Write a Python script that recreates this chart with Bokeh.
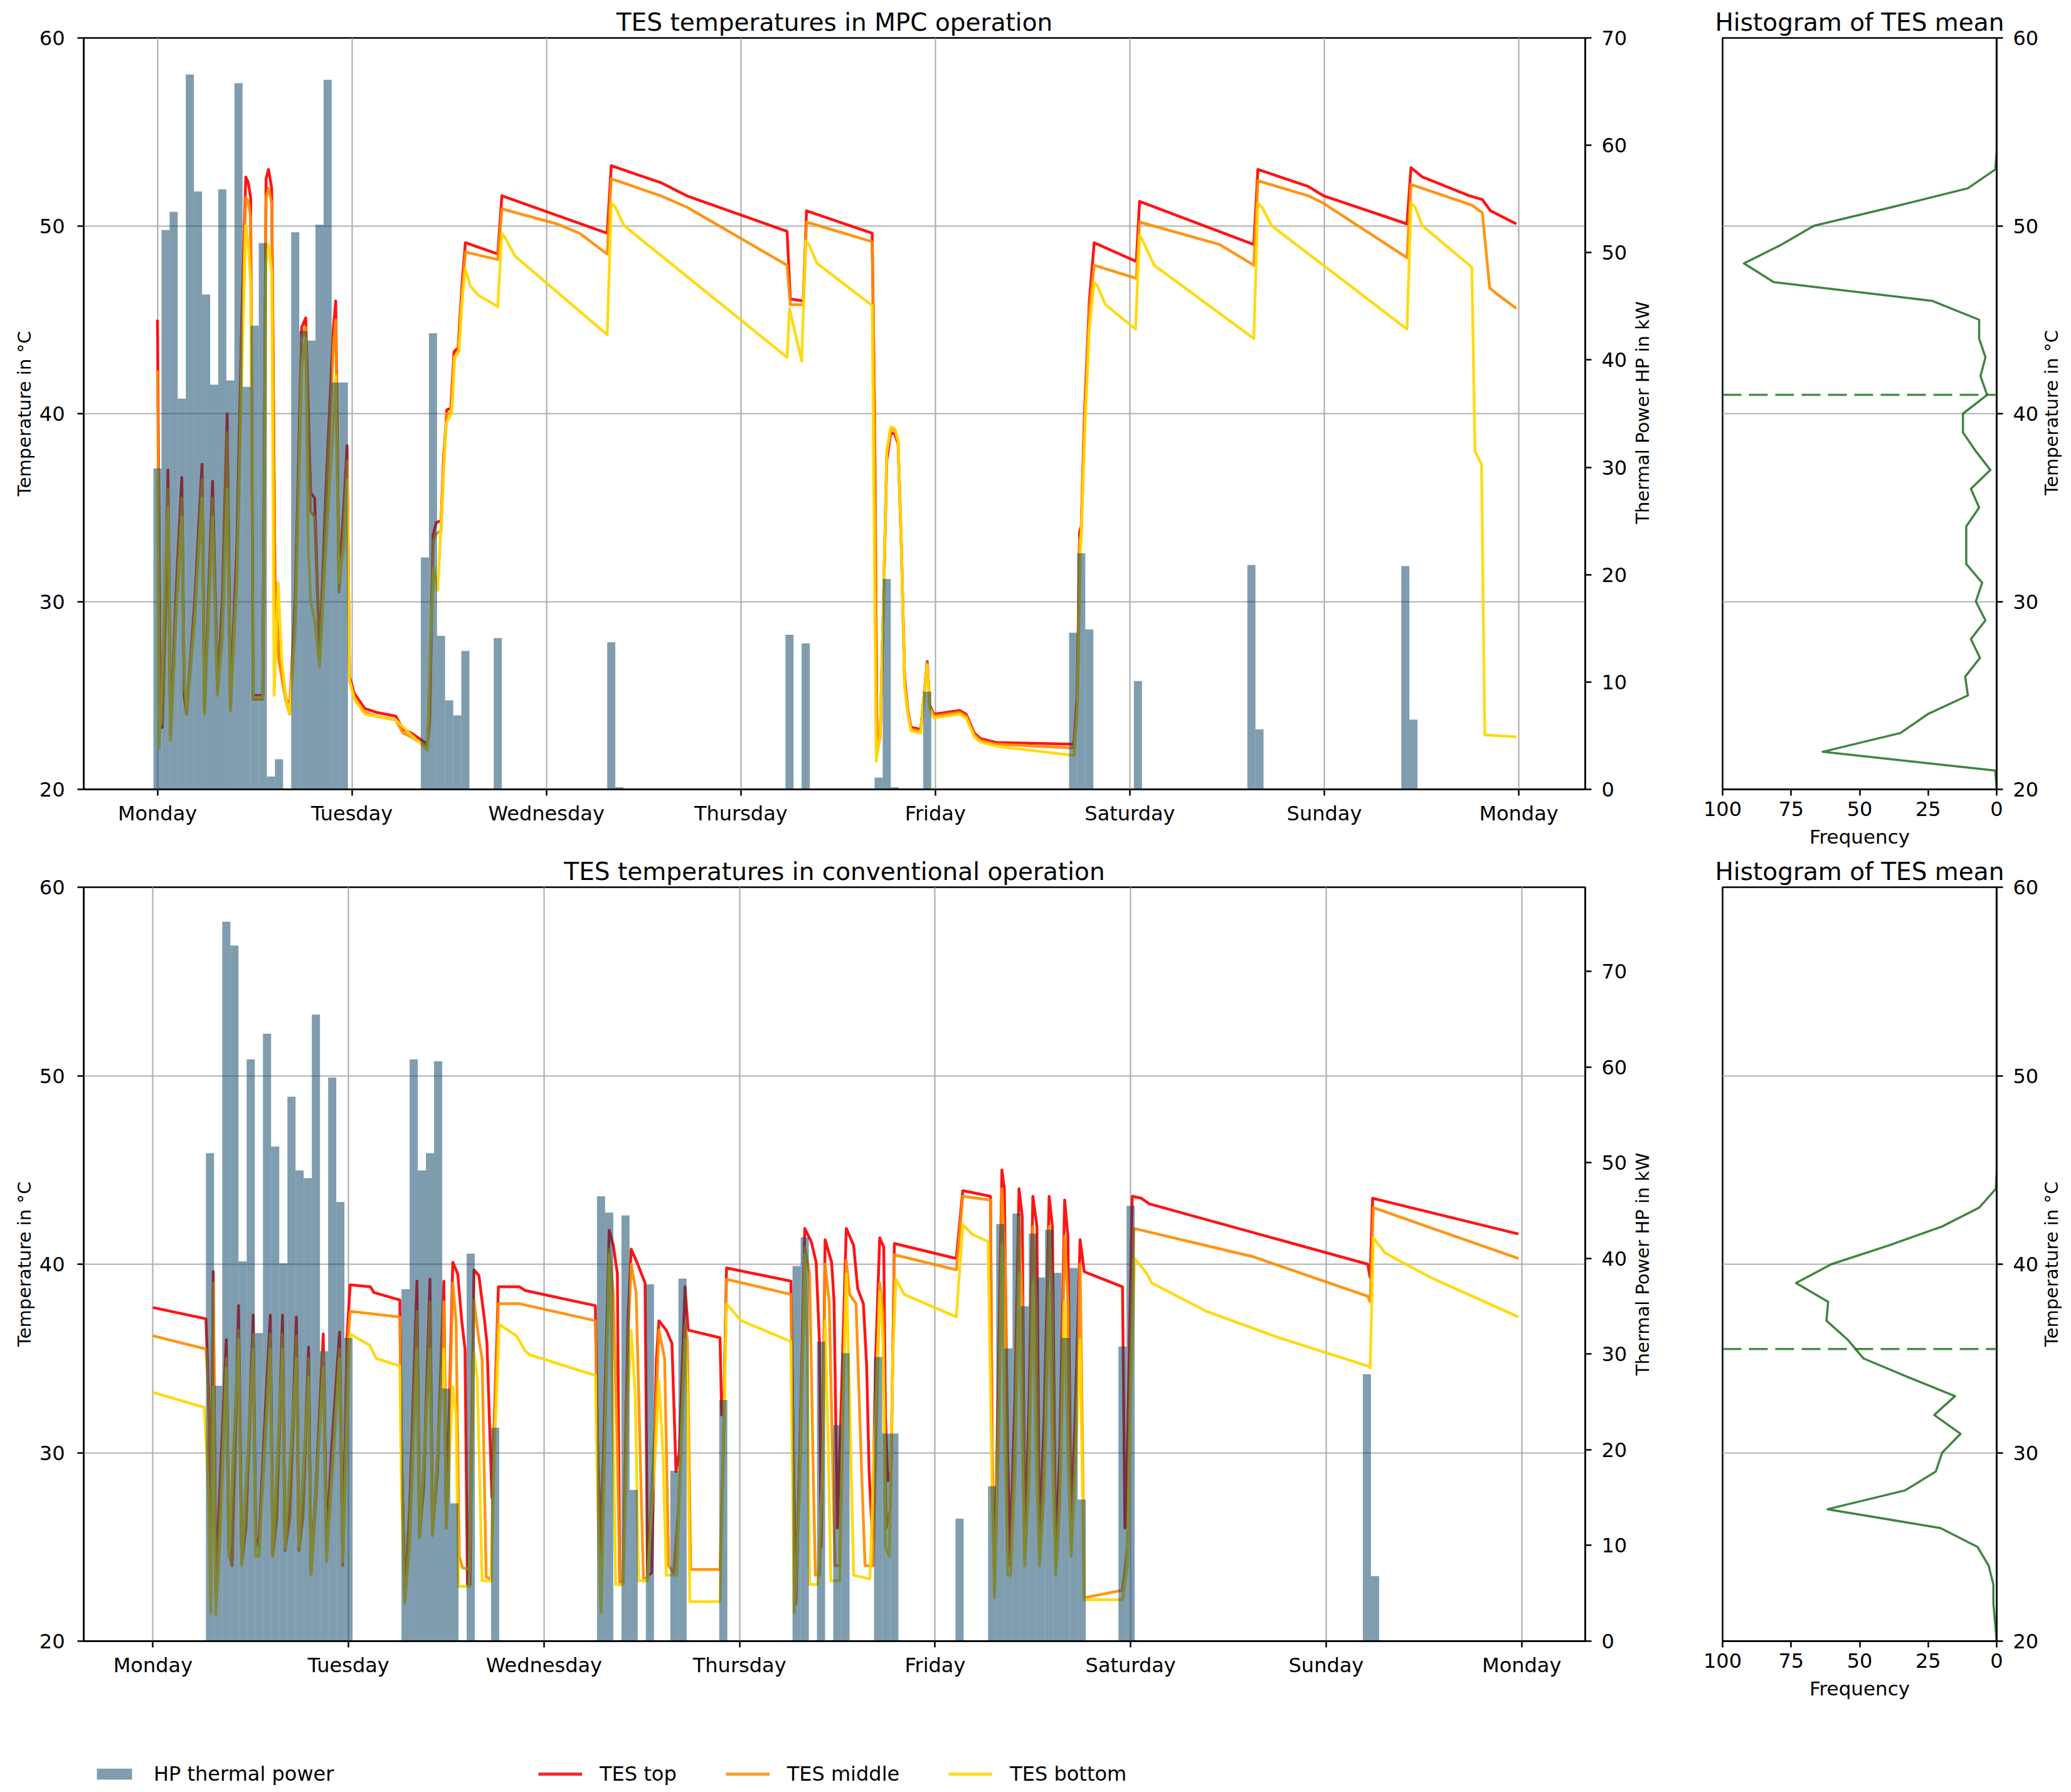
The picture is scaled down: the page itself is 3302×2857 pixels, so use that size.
import math
from bokeh.plotting import figure
from bokeh.models import Range1d, LinearAxis, FixedTicker, Legend, LegendItem, Span, Label
from bokeh.layouts import column, row
from bokeh.embed import file_html
from bokeh.resources import INLINE

FONT = "DejaVu Sans"

# ---------------- data ----------------
DAY_TICKS = [0, 24, 48, 72, 96, 120, 144, 168]
DAY_LABELS = ["Monday", "Tuesday", "Wednesday", "Thursday", "Friday", "Saturday", "Sunday", "Monday"]
TEMP_TICKS = [20, 30, 40, 50, 60]
POWER_TICKS = [0, 10, 20, 30, 40, 50, 60, 70]
FREQ_TICKS = [0, 25, 50, 75, 100]

# HP thermal power (hour of week, kW) - MPC operation
MPC_BAR_HOURS = [0, 1, 2, 3, 4, 5, 6, 7, 8, 9, 10, 11, 12, 13, 14, 15, 17, 18, 19, 20, 21, 22, 23,
                 33, 34, 35, 36, 37, 38, 42, 56, 57, 78, 80, 89, 90, 91, 95, 113, 114, 115, 121,
                 135, 136, 154, 155]
MPC_BAR_KW = [29.9, 52.1, 53.8, 36.4, 66.6, 55.7, 46.1, 37.7, 55.9, 38.1, 65.8, 37.5, 43.2, 50.9, 1.2, 2.8,
              51.9, 42.7, 41.8, 52.6, 66.1, 37.9, 37.9,
              21.6, 42.5, 14.3, 8.3, 6.9, 12.9, 14.1, 13.7, 0.2, 14.4, 13.6, 1.1, 19.6, 0.2, 9.1,
              14.6, 22.0, 14.9, 10.1, 20.9, 5.6, 20.8, 6.5]

# HP thermal power - conventional operation
CONV_BAR_HOURS = [7, 8, 9, 10, 11, 12, 13, 14, 15, 16, 17, 18, 19, 20, 21, 22, 23, 24,
                  31, 32, 33, 34, 35, 36, 37, 39, 42,
                  55, 56, 58, 59, 61, 64, 65, 70, 79, 80, 82, 84, 85, 89, 90, 91, 99,
                  103, 104, 105, 106, 107, 108, 109, 110, 111, 112, 113, 114, 119, 120, 149, 150]
CONV_BAR_KW = [51.0, 26.7, 75.2, 72.7, 39.7, 60.8, 32.2, 63.5, 51.7, 39.5, 56.9, 49.2, 48.4, 65.5, 30.3, 58.9, 45.9, 31.7,
               36.8, 60.8, 49.2, 51.0, 60.6, 26.4, 14.4, 40.5, 22.3,
               46.5, 44.8, 44.5, 15.8, 37.3, 17.8, 37.9, 25.2, 39.2, 42.2, 31.3, 22.6, 30.1, 29.7, 21.7, 21.7, 12.8,
               16.2, 43.6, 30.6, 44.7, 35.0, 42.6, 38.0, 43.0, 38.5, 31.7, 39.0, 14.8, 30.8, 45.5, 27.9, 6.8]

# TES temperatures (hour, degC) - MPC operation
MPC_TOP = [(0, 45.0), (0.3, 27.5), (0.6, 23.3), (1.0, 30.0), (1.3, 37.0), (1.6, 22.9), (2.3, 30.5), (3.0, 36.6),
           (3.3, 25.0), (3.6, 24.0), (4.6, 30.0), (5.5, 37.3), (5.8, 24.2), (6.8, 36.4), (7.4, 25.3), (8.0, 30.0),
           (8.6, 40.0), (9.0, 24.4), (9.8, 33.0), (10.4, 45.0), (10.9, 52.6), (11.2, 52.3), (11.5, 51.5), (11.8, 25.0),
           (13.0, 25.0), (13.4, 52.5), (13.7, 53.0), (14.1, 52.0), (14.5, 31.3), (15.0, 27.0), (15.8, 25.0), (16.3, 24.2),
           (17.0, 30.0), (17.8, 44.6), (18.3, 45.1), (18.9, 35.8), (19.4, 35.5), (20.0, 27.0), (20.8, 36.0), (21.7, 44.5),
           (22.0, 46.0), (22.4, 31.0), (23.0, 35.0), (23.4, 38.3), (23.7, 26.0), (24.3, 25.1), (25.6, 24.3), (27.0, 24.1),
           (29.4, 23.9), (30.3, 23.2), (31.3, 23.0), (32.0, 22.8), (33.3, 22.4), (33.6, 24.0), (34.0, 33.5), (34.4, 34.2),
           (35.0, 34.3), (35.3, 37.5), (35.7, 40.2), (36.2, 40.3), (36.6, 43.3), (37.1, 43.5), (37.6, 47.0), (38.0, 49.1),
           (42.0, 48.5), (42.5, 51.6), (55.5, 49.6), (56.0, 53.2), (62.1, 52.3), (65.3, 51.6), (77.7, 49.7), (78.1, 46.1),
           (79.7, 46.0), (80.1, 50.8), (88.2, 49.6), (88.5, 40.0), (88.8, 22.3), (89.2, 23.0), (89.6, 30.0), (90.0, 37.5),
           (90.5, 39.0), (91.0, 38.9), (91.4, 38.4), (91.8, 33.0), (92.2, 26.0), (92.6, 24.2), (93.0, 23.3), (94.2, 23.2),
           (94.6, 25.0), (95.0, 26.8), (95.3, 24.5), (95.8, 24.0), (99.0, 24.2), (99.8, 24.0), (100.8, 23.0), (101.6, 22.7),
           (103.5, 22.5), (113.1, 22.4), (113.5, 25.0), (113.8, 33.7), (114.0, 34.0), (114.4, 40.0), (115.0, 46.0),
           (115.6, 49.1), (120.8, 48.1), (121.2, 51.3), (135.3, 49.0), (135.8, 53.0), (142.0, 52.1), (143.9, 51.6),
           (154.2, 50.1), (154.7, 53.1), (156.1, 52.6), (161.9, 51.6), (163.5, 51.4), (164.5, 50.8), (167.7, 50.1)]

MPC_MID = [(0, 42.3), (0.3, 27.0), (0.6, 23.5), (1.0, 29.5), (1.3, 36.0), (1.6, 23.2), (2.3, 30.0), (3.0, 35.5),
           (3.3, 25.5), (3.6, 24.3), (4.6, 29.5), (5.5, 36.5), (5.8, 24.5), (6.8, 35.5), (7.4, 25.5), (8.0, 29.5),
           (8.6, 39.0), (9.0, 24.6), (9.8, 32.0), (10.4, 44.0), (10.9, 51.5), (11.2, 51.3), (11.5, 50.5), (11.8, 24.8),
           (13.0, 24.8), (13.4, 51.5), (13.7, 52.0), (14.1, 51.2), (14.5, 30.5), (15.0, 26.8), (15.8, 24.8), (16.3, 24.0),
           (17.0, 29.5), (17.8, 44.0), (18.3, 44.6), (18.9, 34.8), (19.4, 34.5), (20.0, 27.0), (20.8, 35.0), (21.7, 43.5),
           (22.0, 45.0), (22.4, 30.5), (23.0, 34.0), (23.4, 37.5), (23.7, 25.8), (24.3, 24.9), (25.6, 24.1), (27.0, 23.9),
           (29.4, 23.7), (30.3, 23.0), (31.3, 22.8), (32.0, 22.6), (33.3, 22.3), (33.6, 23.5), (34.0, 33.2), (34.4, 33.6),
           (35.0, 33.8), (35.3, 37.0), (35.7, 40.0), (36.2, 40.0), (36.6, 43.0), (37.1, 43.3), (37.6, 46.5), (38.0, 48.6),
           (42.0, 48.2), (42.5, 50.9), (49.3, 50.1), (52.1, 49.6), (55.5, 48.5), (56.0, 52.5), (62.1, 51.6), (65.3, 51.0),
           (77.7, 47.9), (78.1, 45.8), (79.7, 45.8), (80.1, 50.2), (88.2, 49.15), (88.5, 40.0), (88.8, 22.0), (89.2, 22.8),
           (89.6, 30.0), (90.0, 37.8), (90.5, 39.2), (91.0, 39.1), (91.4, 38.5), (91.8, 33.0), (92.2, 25.8), (92.6, 24.1),
           (93.0, 23.2), (94.2, 23.1), (94.6, 25.0), (95.0, 26.7), (95.3, 24.4), (95.8, 23.9), (99.0, 24.1), (99.8, 23.9),
           (100.8, 22.9), (101.6, 22.6), (103.5, 22.4), (113.1, 22.2), (113.5, 24.5), (113.8, 33.3), (114.0, 33.5),
           (114.4, 39.5), (115.0, 45.5), (115.6, 47.9), (120.8, 47.2), (121.2, 50.2), (131.1, 49.0), (135.3, 47.9),
           (135.8, 52.4), (142.0, 51.6), (143.9, 51.2), (154.2, 48.3), (154.7, 52.2), (162.2, 51.1), (163.5, 50.7),
           (164.4, 46.7), (165.2, 46.4), (167.7, 45.6)]

MPC_BOT = [(0, 37.0), (0.2, 22.2), (0.6, 26.0), (1.0, 32.0), (1.3, 35.0), (1.6, 22.6), (2.3, 29.0), (3.0, 34.5),
           (3.3, 26.0), (3.6, 24.0), (4.6, 29.0), (5.5, 35.5), (5.8, 24.0), (6.8, 34.5), (7.4, 25.0), (8.0, 28.0),
           (8.6, 36.0), (9.0, 24.2), (9.8, 31.0), (10.4, 42.0), (10.9, 50.0), (11.2, 49.0), (11.5, 47.0), (11.8, 24.9),
           (13.0, 24.9), (13.4, 48.0), (13.7, 49.0), (14.1, 47.5), (14.4, 25.0), (14.9, 31.0), (15.3, 27.0), (15.8, 25.0),
           (16.3, 24.0), (17.0, 28.5), (17.8, 42.5), (18.3, 44.0), (18.6, 33.0), (18.9, 30.0), (19.4, 29.0), (20.0, 26.5),
           (20.8, 33.0), (21.7, 39.5), (22.0, 42.0), (22.4, 31.0), (23.0, 33.0), (23.4, 36.5), (23.7, 25.8), (24.3, 24.8),
           (25.6, 24.0), (29.4, 23.7), (31.3, 22.9), (33.3, 22.1), (33.7, 28.0), (34.1, 31.8), (34.6, 30.6), (35.1, 35.0),
           (35.6, 39.5), (36.3, 40.0), (36.7, 43.0), (37.2, 43.3), (37.6, 46.0), (38.0, 47.7), (38.6, 46.8), (39.6, 46.3),
           (42.0, 45.7), (42.5, 49.6), (43.0, 49.3), (44.1, 48.4), (55.5, 44.2), (56.0, 51.2), (56.5, 51.0), (57.6, 50.0),
           (77.7, 43.0), (78.0, 45.6), (79.5, 42.8), (80.0, 49.2), (80.4, 49.0), (81.4, 48.0), (88.2, 45.75), (88.7, 21.5),
           (89.2, 23.0), (89.6, 30.0), (90.0, 38.0), (90.5, 39.3), (91.0, 39.2), (91.4, 38.6), (91.8, 33.0), (92.2, 25.5),
           (92.6, 24.0), (93.0, 23.1), (94.2, 23.0), (94.6, 25.0), (95.0, 26.6), (95.3, 24.3), (95.8, 23.8), (99.0, 24.0),
           (99.8, 23.8), (100.8, 22.8), (101.6, 22.5), (103.5, 22.3), (113.1, 21.8), (113.5, 24.0), (113.9, 32.5),
           (114.4, 38.5), (115.0, 44.5), (115.6, 47.0), (116.0, 46.8), (117.0, 45.8), (120.7, 44.5), (121.2, 49.5),
           (121.6, 49.2), (123.0, 47.9), (135.3, 44.0), (135.8, 51.2), (136.3, 51.0), (137.5, 50.0), (154.2, 44.5),
           (154.7, 51.2), (155.2, 51.0), (156.1, 50.0), (162.2, 47.8), (162.6, 38.0), (163.4, 37.3), (163.8, 22.9),
           (167.7, 22.8)]

# TES temperatures (hour, degC) - conventional operation
CONV_TOP = [(0, 37.7), (6.5, 37.1), (6.8, 33.5), (7.1, 26.0), (7.4, 39.6), (7.7, 23.0), (8.3, 29.0), (9.0, 36.0),
            (9.3, 25.0), (9.7, 24.0), (10.5, 37.8), (10.9, 24.2), (11.4, 26.0), (12.3, 37.3), (12.6, 25.5), (13.0, 25.2),
            (14.0, 34.0), (14.4, 37.3), (14.7, 24.6), (15.2, 27.0), (15.9, 37.3), (16.2, 25.0), (16.8, 27.0), (17.6, 37.2),
            (17.9, 24.9), (18.4, 27.0), (19.1, 35.6), (19.4, 23.7), (20.0, 28.0), (20.9, 36.3), (21.3, 25.1), (21.9, 30.0),
            (22.9, 36.4), (23.3, 24.1), (23.8, 36.0), (24.2, 38.9), (26.7, 38.8), (27.1, 38.5), (30.3, 38.1), (30.5, 30.0),
            (30.9, 22.5), (31.5, 27.0), (32.4, 39.1), (32.7, 25.8), (33.2, 28.0), (34.0, 39.2), (34.3, 25.9), (34.9, 29.0),
            (35.7, 39.1), (36.0, 26.3), (36.4, 33.0), (36.8, 40.1), (37.4, 39.5), (37.9, 37.0), (38.3, 35.5), (38.6, 23.0),
            (38.9, 23.0), (39.4, 39.7), (40.0, 39.4), (40.7, 37.0), (41.0, 35.8), (41.6, 27.6), (42.4, 38.8), (45.0, 38.8),
            (45.7, 38.6), (54.3, 37.8), (54.6, 30.0), (55.0, 25.0), (55.6, 35.0), (56.0, 41.8), (56.5, 41.0), (57.0, 39.5),
            (57.3, 23.0), (57.7, 23.2), (58.3, 37.0), (58.7, 40.8), (59.5, 40.0), (60.4, 39.0), (60.7, 23.5), (61.2, 23.6),
            (61.8, 35.0), (62.1, 37.0), (63.0, 36.5), (63.7, 35.8), (64.2, 29.0), (64.6, 30.0), (65.3, 38.8), (65.7, 36.5),
            (69.6, 36.1), (69.8, 32.0), (70.1, 33.0), (70.4, 39.8), (78.3, 39.1), (78.6, 30.0), (78.9, 22.0), (79.4, 30.0),
            (80.0, 41.9), (80.8, 41.2), (81.4, 40.1), (81.8, 35.9), (82.0, 25.0), (82.2, 30.0), (82.5, 41.3), (83.3, 40.1),
            (83.6, 38.0), (84.0, 26.0), (84.5, 33.0), (85.1, 41.9), (86.0, 41.0), (86.5, 38.7), (87.2, 37.9), (87.6, 34.6),
            (87.9, 29.0), (88.3, 25.5), (88.7, 35.0), (89.2, 41.4), (89.7, 40.9), (89.9, 32.0), (90.2, 28.5), (90.6, 29.0),
            (91.0, 41.1), (98.6, 40.3), (99.4, 43.9), (102.8, 43.6), (103.0, 30.0), (103.3, 23.0), (103.8, 35.0),
            (104.2, 45.0), (104.5, 44.0), (104.9, 30.0), (105.2, 24.5), (105.8, 33.0), (106.3, 44.0), (106.7, 42.5),
            (107.0, 25.0), (107.5, 32.0), (108.0, 43.6), (108.5, 42.0), (108.8, 25.0), (109.4, 32.0), (110.0, 43.6),
            (110.4, 42.0), (110.8, 24.5), (111.3, 30.0), (111.9, 43.4), (112.3, 41.5), (112.7, 26.0), (113.2, 32.0),
            (113.8, 41.3), (114.3, 39.6), (119.0, 38.8), (119.3, 26.0), (119.6, 30.0), (120.2, 43.6), (121.3, 43.5),
            (122.3, 43.2), (149.1, 40.0), (149.4, 39.3), (149.7, 43.5), (167.6, 41.6)]

CONV_MID = [(0, 36.2), (6.5, 35.5), (6.8, 33.5), (7.1, 26.0), (7.4, 39.0), (7.7, 22.5), (8.3, 28.0), (9.0, 35.0),
            (9.3, 25.0), (9.7, 24.0), (10.5, 36.5), (10.9, 24.3), (11.4, 26.0), (12.3, 36.3), (12.6, 25.2), (13.0, 25.0),
            (14.0, 33.0), (14.4, 36.3), (14.7, 24.5), (15.2, 26.5), (15.9, 36.3), (16.2, 24.8), (16.8, 26.5), (17.6, 36.2),
            (17.9, 24.8), (18.4, 26.5), (19.1, 35.0), (19.4, 23.6), (20.0, 27.5), (20.9, 35.3), (21.3, 24.9), (21.9, 29.0),
            (22.9, 35.5), (23.3, 24.0), (23.8, 35.0), (24.2, 37.5), (30.3, 37.2), (30.5, 30.0), (30.9, 22.3), (31.5, 27.0),
            (32.4, 37.5), (32.7, 25.5), (33.2, 28.0), (34.0, 38.0), (34.3, 25.6), (34.9, 29.0), (35.7, 38.0), (36.0, 26.0),
            (36.4, 32.0), (36.8, 39.0), (37.2, 37.0), (37.6, 24.5), (38.0, 23.9), (38.8, 23.8), (39.4, 38.1), (40.0, 36.0),
            (40.4, 35.0), (40.9, 23.4), (41.5, 23.3), (41.8, 30.0), (42.4, 37.9), (45.0, 37.9), (54.3, 37.0), (54.6, 30.0),
            (55.0, 24.5), (55.6, 34.0), (56.0, 40.8), (56.5, 38.5), (57.0, 30.0), (57.3, 23.0), (57.7, 23.2), (58.3, 36.0),
            (58.7, 40.0), (59.3, 38.5), (59.8, 30.0), (60.2, 23.3), (60.7, 23.4), (61.8, 33.0), (62.1, 36.5), (62.8, 35.0),
            (63.3, 24.0), (63.9, 23.6), (64.5, 27.0), (65.3, 36.8), (65.6, 36.0), (66.0, 23.8), (69.6, 23.8), (70.0, 30.0),
            (70.4, 39.2), (78.3, 38.4), (78.6, 30.0), (78.9, 22.0), (79.4, 30.0), (80.0, 40.9), (80.6, 39.5), (81.0, 30.0),
            (81.3, 23.5), (81.8, 23.5), (82.2, 30.0), (82.5, 40.0), (83.0, 38.0), (83.4, 30.0), (83.7, 24.0), (84.3, 24.0),
            (84.7, 33.0), (85.1, 40.2), (85.5, 38.4), (86.3, 37.9), (86.9, 30.0), (87.4, 24.0), (88.4, 24.0), (88.8, 32.0),
            (89.2, 39.0), (89.6, 37.5), (90.0, 26.0), (90.5, 27.0), (91.0, 40.5), (98.6, 39.7), (99.4, 43.6), (102.8, 43.4),
            (103.0, 30.0), (103.3, 22.5), (103.8, 33.0), (104.2, 44.0), (104.6, 40.0), (104.9, 25.0), (105.2, 24.0),
            (105.8, 31.0), (106.3, 42.5), (106.7, 38.0), (107.0, 24.5), (107.5, 30.0), (108.0, 42.0), (108.4, 38.0),
            (108.8, 24.5), (109.4, 30.0), (110.0, 42.0), (110.4, 38.0), (110.8, 24.0), (111.3, 28.0), (111.9, 41.5),
            (112.3, 38.0), (112.7, 25.0), (113.2, 30.0), (113.8, 40.0), (114.1, 30.0), (114.3, 22.3), (119.0, 22.7),
            (119.6, 25.0), (120.0, 35.0), (120.4, 41.9), (122.3, 41.7), (135.0, 40.4), (149.1, 38.3), (149.4, 38.0),
            (149.8, 43.0), (167.6, 40.3)]

CONV_BOT = [(0, 33.2), (6.3, 32.4), (6.8, 28.0), (7.1, 21.5), (7.4, 33.5), (7.7, 21.4), (8.3, 26.0), (9.0, 34.5),
            (9.3, 24.5), (10.5, 36.0), (10.9, 24.0), (12.3, 35.5), (12.6, 24.5), (13.0, 24.5), (14.4, 35.5), (14.7, 24.5),
            (15.9, 35.5), (16.2, 25.0), (17.6, 35.0), (17.9, 25.0), (19.1, 34.0), (19.4, 23.5), (20.9, 34.5), (21.3, 24.2),
            (22.9, 35.0), (23.3, 24.2), (24.0, 34.0), (24.2, 36.3), (26.6, 35.7), (27.4, 35.0), (30.3, 34.6), (30.5, 28.0),
            (30.9, 22.0), (31.5, 25.0), (32.4, 35.5), (32.7, 25.5), (34.0, 35.5), (34.3, 25.6), (35.7, 35.5), (36.0, 26.0),
            (36.8, 33.5), (37.2, 32.0), (37.5, 22.9), (38.8, 22.9), (39.4, 35.3), (39.8, 34.0), (40.4, 23.2), (41.5, 23.2),
            (41.9, 30.0), (42.5, 36.8), (44.6, 36.2), (45.7, 35.4), (46.2, 35.2), (54.3, 34.1), (54.6, 27.0), (55.0, 21.5),
            (55.6, 33.0), (56.0, 40.5), (56.3, 36.0), (56.8, 23.0), (57.7, 23.0), (58.3, 33.0), (58.7, 36.5), (59.2, 33.0),
            (59.6, 23.2), (60.7, 23.2), (61.8, 31.0), (62.1, 33.8), (62.6, 30.0), (63.0, 23.5), (64.3, 23.5), (64.8, 30.0),
            (65.3, 36.0), (65.6, 33.0), (65.9, 22.1), (69.6, 22.1), (70.0, 30.0), (70.4, 37.9), (72.2, 37.0), (78.3, 35.9),
            (78.7, 21.5), (79.4, 28.0), (80.0, 40.5), (80.3, 36.0), (80.6, 23.0), (81.6, 23.0), (82.2, 29.0), (82.5, 37.0),
            (82.9, 30.0), (83.2, 23.2), (84.3, 23.2), (84.7, 32.0), (85.1, 39.5), (85.5, 33.0), (86.0, 23.5), (88.0, 23.3),
            (88.5, 30.0), (89.2, 38.5), (89.6, 36.0), (89.9, 25.0), (90.4, 24.5), (90.8, 35.0), (91.2, 39.2), (92.2, 38.4),
            (98.6, 37.2), (99.4, 42.1), (100.5, 41.6), (102.5, 41.2), (103.0, 28.0), (103.3, 22.3), (103.8, 31.0),
            (104.2, 41.0), (104.6, 30.0), (104.9, 23.5), (105.3, 23.5), (105.8, 29.0), (106.3, 39.5), (106.7, 30.0),
            (107.0, 24.0), (107.5, 28.0), (108.0, 39.0), (108.4, 30.0), (108.8, 24.0), (109.4, 28.0), (110.0, 38.5),
            (110.4, 30.0), (110.8, 23.5), (111.3, 27.0), (111.9, 38.0), (112.3, 30.0), (112.7, 24.5), (113.2, 29.0),
            (113.8, 36.0), (114.1, 28.0), (114.3, 22.2), (119.0, 22.2), (119.6, 24.0), (120.0, 33.0), (120.5, 40.3),
            (122.0, 39.5), (122.6, 39.0), (129.3, 37.5), (138.2, 36.1), (149.1, 34.6), (149.4, 34.5), (149.8, 41.4),
            (151.2, 40.6), (156.8, 39.3), (167.6, 37.2)]

# Histogram of TES mean temperature (bin centre degC -> frequency)
HIST_T = list(range(20, 61))
MPC_FREQ = [0, 0.5, 63.5, 35.1, 25.2, 10.5, 11.5, 6.1, 9.4, 4.1, 7.6, 5.3, 11.1, 11.1, 11.1, 6.4, 9.4, 2.3, 7.6,
            12.3, 12.3, 3.5, 5.9, 4.1, 6.4, 6.4, 23.4, 81.4, 92.2, 78.5, 66.7, 38.0, 10.5, 0.5,
            0, 0, 0, 0, 0, 0, 0]
CONV_FREQ = [0, 0.6, 1.2, 1.2, 2.9, 7.0, 20.5, 61.7, 33.4, 22.2, 19.9, 13.2, 22.8, 15.2, 32.2, 48.6, 54.4, 62.1,
             61.5, 73.2, 60.3, 39.2, 19.9, 6.4, 0.3,
             0, 0, 0, 0, 0, 0, 0, 0, 0, 0, 0, 0, 0, 0, 0, 0]
MPC_MEAN = 41.0
CONV_MEAN = 35.5

# ---------------- style / layout ----------------
LINE_COLORS = ["#ff0000", "#ff8c00", "#ffd700"]
LINE_LABELS = ["TES top", "TES middle", "TES bottom"]
BAR_COLOR = "#0a4465"
HIST_COLOR = "#1f6e1f"
GRID_COLOR = "#b0b0b0"

MAIN_W = 2600          # main chart figure width
LAB_W = 110            # strip carrying the right-hand axis title of the main chart
HIST_W = 543
HLAB_W = 47
FRAME_W = 2394
HIST_FRAME_W = 437
BORDER_L = 133
HIST_BORDER_L = 36
BORDER_T = 60
TOP_H = 1354
BOT_H = 1366
LEG_H = 135
TOP_FRAME_H = 1201
BOT_FRAME_H = 1202
TICK_SIZE = "32px"
TITLE_SIZE = "39px"
LABEL_SIZE = "29px"


def style_axis(ax, label_size=LABEL_SIZE):
    ax.major_label_text_font = FONT
    ax.major_label_text_font_size = TICK_SIZE
    ax.major_label_text_color = "black"
    ax.axis_label_text_font = FONT
    ax.axis_label_text_font_size = label_size
    ax.axis_label_text_font_style = "normal"
    ax.axis_label_text_color = "black"
    ax.axis_line_color = "black"
    ax.axis_line_width = 2.5
    ax.major_tick_line_color = "black"
    ax.major_tick_line_width = 2.5
    ax.major_tick_in = 0
    ax.major_tick_out = 10
    ax.minor_tick_line_color = None


def style_title(p):
    p.title.align = "center"
    p.title.text_font = FONT
    p.title.text_font_size = TITLE_SIZE
    p.title.text_font_style = "normal"
    p.title.text_color = "black"
    p.title.standoff = 6


def blank_fig(width, height, border_top=0, border_bottom=0):
    f = figure(width=width, height=height, output_backend="svg", toolbar_location=None,
               x_axis_type=None, y_axis_type=None, min_border_left=0, min_border_right=0,
               min_border_top=border_top, min_border_bottom=border_bottom)
    f.outline_line_color = None
    f.grid.visible = False
    return f


def label_strip(width, height, frame_h, text, x):
    f = blank_fig(width, height, BORDER_T, height - BORDER_T - frame_h)
    f.add_layout(Label(x=x, y=frame_h / 2, x_units="screen", y_units="screen", text=text,
                       angle=math.pi / 2, text_align="center", text_baseline="middle",
                       text_font=FONT, text_font_size=LABEL_SIZE, text_color="black"))
    return f


def make_main(title, xr, pmax, height, frame_h, series, bar_hours, bar_kw):
    p = figure(width=MAIN_W, height=height, x_range=Range1d(*xr), y_range=Range1d(20, 60),
               output_backend="svg", toolbar_location=None,
               min_border_left=BORDER_L, min_border_right=MAIN_W - BORDER_L - FRAME_W,
               min_border_top=BORDER_T, min_border_bottom=height - BORDER_T - frame_h, title=title)
    style_title(p)
    p.outline_line_color = "black"
    p.outline_line_width = 2.5
    p.outline_line_alpha = 1.0
    p.extra_y_ranges = {"power": Range1d(0, pmax)}

    xa = p.xaxis[0]
    xa.ticker = FixedTicker(ticks=DAY_TICKS)
    xa.major_label_overrides = {t: l for t, l in zip(DAY_TICKS, DAY_LABELS)}
    style_axis(xa)
    xa.major_label_standoff = 9

    ya = p.yaxis[0]
    ya.ticker = FixedTicker(ticks=TEMP_TICKS)
    ya.axis_label = "Temperature in °C"
    style_axis(ya)
    ya.major_label_standoff = 20
    ya.axis_label_standoff = 4

    ra = LinearAxis(y_range_name="power", ticker=FixedTicker(ticks=POWER_TICKS))
    style_axis(ra)
    ra.major_label_standoff = 16
    p.add_layout(ra, "right")

    p.xgrid.ticker = FixedTicker(ticks=DAY_TICKS)
    p.ygrid.ticker = FixedTicker(ticks=TEMP_TICKS)
    p.grid.grid_line_color = GRID_COLOR
    p.grid.grid_line_width = 2.2

    for pts, color in zip(series, LINE_COLORS):
        xs = [a for a, _ in pts]
        ys = [b for _, b in pts]
        p.line(xs, ys, line_color=color, line_width=4.5, line_alpha=0.92, line_join="round")
    p.vbar(x=bar_hours, top=bar_kw, width=1.0, bottom=0, y_range_name="power",
           fill_color=BAR_COLOR, fill_alpha=0.52, line_color=None)
    return p


def make_hist(height, frame_h, freq, mean):
    h = figure(width=HIST_W, height=height, x_range=Range1d(100, 0), y_range=Range1d(20, 60),
               output_backend="svg", toolbar_location=None, y_axis_location="right",
               min_border_left=HIST_BORDER_L, min_border_right=HIST_W - HIST_BORDER_L - HIST_FRAME_W,
               min_border_top=BORDER_T, min_border_bottom=height - BORDER_T - frame_h,
               title="Histogram of TES mean")
    style_title(h)
    h.outline_line_color = "black"
    h.outline_line_width = 2.5
    h.outline_line_alpha = 1.0
    xa = h.xaxis[0]
    xa.ticker = FixedTicker(ticks=FREQ_TICKS)
    xa.axis_label = "Frequency"
    style_axis(xa, label_size="31px")
    xa.major_label_standoff = 9
    xa.axis_label_standoff = 12
    ya = h.yaxis[0]
    ya.ticker = FixedTicker(ticks=TEMP_TICKS)
    style_axis(ya)
    ya.major_label_standoff = 16
    h.xgrid.visible = False
    h.ygrid.ticker = FixedTicker(ticks=TEMP_TICKS)
    h.ygrid.grid_line_color = GRID_COLOR
    h.ygrid.grid_line_width = 2.2
    h.line(freq, HIST_T, line_color=HIST_COLOR, line_width=3.5, line_alpha=0.85, line_join="round")
    h.add_layout(Span(location=mean, dimension="width", line_color=HIST_COLOR, line_alpha=0.8,
                      line_width=3.5, line_dash="30 12"))
    return h


p1 = make_main("TES temperatures in MPC operation", (-9.1, 176.2), 70, TOP_H, TOP_FRAME_H,
               [MPC_TOP, MPC_MID, MPC_BOT], MPC_BAR_HOURS, MPC_BAR_KW)
p2 = make_main("TES temperatures in conventional operation", (-8.5, 175.8), 78.8, BOT_H, BOT_FRAME_H,
               [CONV_TOP, CONV_MID, CONV_BOT], CONV_BAR_HOURS, CONV_BAR_KW)
h1 = make_hist(TOP_H, TOP_FRAME_H, MPC_FREQ, MPC_MEAN)
h2 = make_hist(BOT_H, BOT_FRAME_H, CONV_FREQ, CONV_MEAN)

l1 = label_strip(LAB_W, TOP_H, TOP_FRAME_H, "Thermal Power HP in kW", 18)
l2 = label_strip(LAB_W, BOT_H, BOT_FRAME_H, "Thermal Power HP in kW", 18)
hl1 = label_strip(HLAB_W, TOP_H, TOP_FRAME_H, "Temperature in °C", 17)
hl2 = label_strip(HLAB_W, BOT_H, BOT_FRAME_H, "Temperature in °C", 17)

# legend strip along the bottom of the page; its glyphs reuse the conventional-operation
# series but are hidden, so only the legend entries show
leg_fig = blank_fig(MAIN_W + LAB_W + HIST_W + HLAB_W, LEG_H)
leg_fig.x_range = Range1d(-8.5, 175.8)
leg_fig.y_range = Range1d(20, 60)
leg_fig.extra_y_ranges = {"power": Range1d(0, 78.8)}
bar_proxy = leg_fig.vbar(x=CONV_BAR_HOURS, top=CONV_BAR_KW, width=1.0, y_range_name="power",
                         fill_color=BAR_COLOR, fill_alpha=0.52, line_color=None, visible=False)
line_proxies = []
for pts, c in zip([CONV_TOP, CONV_MID, CONV_BOT], LINE_COLORS):
    line_proxies.append(leg_fig.line([a for a, _ in pts], [b for _, b in pts], line_color=c,
                                     line_width=5, line_alpha=0.85, visible=False))


def style_legend(leg):
    leg.orientation = "horizontal"
    leg.label_text_font = FONT
    leg.label_text_font_size = "32px"
    leg.label_text_color = "black"
    leg.glyph_width = 70
    leg.glyph_height = 22
    leg.label_standoff = 28
    leg.spacing = 78
    leg.padding = 0
    leg.margin = 0
    leg.border_line_color = None
    leg.background_fill_alpha = 0
    leg.click_policy = "none"


leg1 = Legend(items=[LegendItem(label="HP thermal power", renderers=[bar_proxy])], location=(147, 8))
leg2 = Legend(items=[LegendItem(label=lab, renderers=[r]) for lab, r in zip(LINE_LABELS, line_proxies)],
              location=(858, 8))
style_legend(leg1)
style_legend(leg2)
leg_fig.add_layout(leg1)
leg_fig.add_layout(leg2)

layout = column(row(p1, l1, h1, hl1), row(p2, l2, h2, hl2), leg_fig)
open("out.html", "w").write(file_html(layout, INLINE))
